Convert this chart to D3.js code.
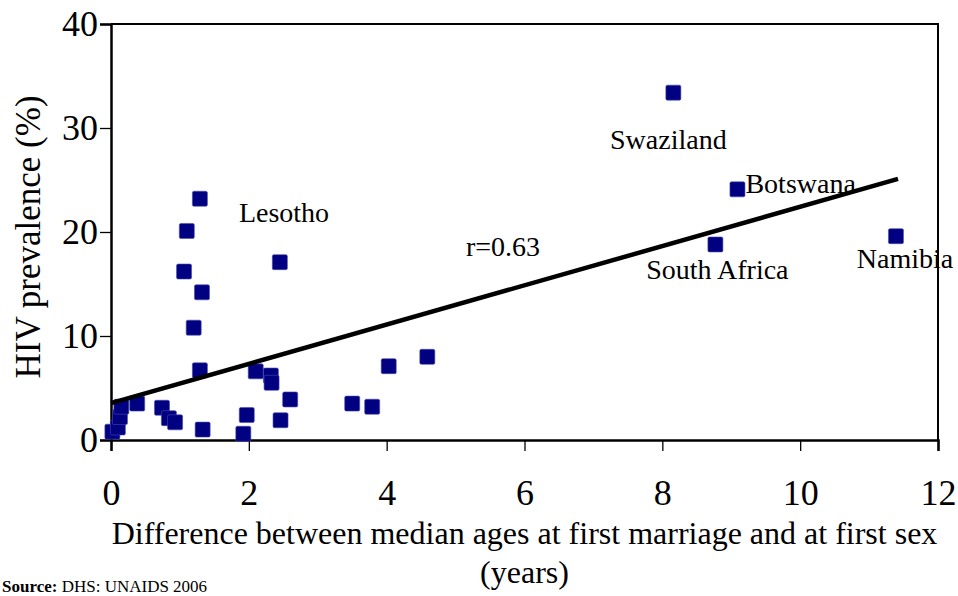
<!DOCTYPE html>
<html lang="en">
<head>
  <meta charset="UTF-8" />
  <title>HIV prevalence vs age gap</title>
  <script src="https://d3js.org/d3.v7.min.js"></script>
  <style>
    html, body { margin: 0; padding: 0; background: #fff; }
    svg { display: block; font-family: "Liberation Serif", "Times New Roman", serif; }
    .tick text { font-size: 36px; fill: #000; }
    .label { font-size: 28px; fill: #000; }
    .axis-title { font-size: 32px; fill: #000; }
  </style>
</head>
<body>
  <svg id="chart" width="958" height="596"></svg>

  <script>
    // difference between median ages at first marriage and first sex (years)
    const ageGap = [1.29, 1.10, 1.06, 1.32, 1.20, 1.29, 2.45, 8.16, 9.09, 8.77, 11.39,
                    4.59, 4.03, 3.50, 3.79, 2.60, 2.10, 2.32, 2.33, 1.97, 2.46, 1.92,
                    1.33, 0.38, 0.74, 0.84, 0.93, 0.02, 0.10, 0.13, 0.15];
    // HIV prevalence (%)
    const prevalence = [23.2, 20.1, 16.2, 14.2, 10.8, 6.7, 17.1, 33.4, 24.1, 18.8, 19.6,
                        8.0, 7.1, 3.5, 3.2, 3.9, 6.6, 6.2, 5.5, 2.4, 1.9, 0.6,
                        1.0, 3.5, 3.1, 2.1, 1.7, 0.8, 1.2, 2.2, 3.2];
    const countryNames = ['Lesotho', '', '', '', '', '', '', 'Swaziland', 'Botswana', 'South Africa', 'Namibia'];
    // label placement relative to its point: [dx, dy, anchor]
    const labelOffsets = {
      'Lesotho':      [39, 23, 'start'],
      'Swaziland':    [-5, 56, 'middle'],
      'Botswana':     [8, 4, 'start'],
      'South Africa': [2, 35, 'middle'],
      'Namibia':      [9, 32, 'middle']
    };
    const xTicks = [0, 2, 4, 6, 8, 10, 12];
    const yTicks = [0, 10, 20, 30, 40];
    const fitLine = [[0, 3.55], [11.42, 25.1]];   // trend line, r=0.63
    const rText = 'r=0.63', rPos = [5.15, 17.7];

    const svg = d3.select('#chart');
    const m = { left: 111, right: 938, top: 24, bottom: 440 };
    const x = d3.scaleLinear().domain([0, 12]).range([m.left, m.right]);
    const y = d3.scaleLinear().domain([0, 40]).range([m.bottom, m.top]);

    // frame (top + right)
    svg.append('path')
      .attr('d', `M${m.left},${m.top}H${m.right}V${m.bottom}`)
      .attr('fill', 'none').attr('stroke', '#000').attr('stroke-width', 2);

    const xAxis = svg.append('g').attr('transform', `translate(0,${m.bottom})`)
      .call(d3.axisBottom(x).tickValues(xTicks).tickSize(11).tickPadding(28).tickFormat(d3.format('d')));
    const yAxis = svg.append('g').attr('transform', `translate(${m.left},0)`)
      .call(d3.axisLeft(y).tickValues(yTicks).tickSize(11).tickPadding(2).tickFormat(d3.format('d')));
    [xAxis, yAxis].forEach(a => {
      a.attr('font-family', null).attr('font-size', null);
      a.select('.domain').attr('stroke', '#000').attr('stroke-width', 2.5);
      a.selectAll('.tick line').attr('stroke', '#000').attr('stroke-width', 1.3);
    });
    xAxis.selectAll('.tick text').attr('dy', '0.71em');

    const pts = ageGap.map((v, i) => ({ gx: v, hv: prevalence[i], name: countryNames[i] || '' }));

    const sq = 15;
    svg.append('g').selectAll('rect').data(pts).join('rect')
      .attr('x', d => x(d.gx) - sq / 2).attr('y', d => y(d.hv) - sq / 2)
      .attr('width', sq).attr('height', sq).attr('rx', 1.5)
      .attr('fill', '#000080').attr('stroke', '#4a4ab0').attr('stroke-width', 0.6);

    svg.append('path')
      .datum(fitLine)
      .attr('d', d3.line().x(d => x(d[0])).y(d => y(d[1])))
      .attr('stroke', '#000').attr('stroke-width', 4.5).attr('fill', 'none');

    svg.append('g').selectAll('text').data(pts.filter(d => d.name)).join('text')
      .attr('class', 'label')
      .attr('x', d => x(d.gx) + labelOffsets[d.name][0])
      .attr('y', d => y(d.hv) + labelOffsets[d.name][1])
      .attr('text-anchor', d => labelOffsets[d.name][2])
      .text(d => d.name);

    svg.append('text').attr('class', 'label')
      .attr('x', x(rPos[0])).attr('y', y(rPos[1]))
      .text(rText);

    // axis titles
    svg.append('text').attr('class', 'axis-title')
      .attr('x', (m.left + m.right) / 2).attr('y', 544).attr('text-anchor', 'middle')
      .text('Difference between median ages at first marriage and at first sex');
    svg.append('text').attr('class', 'axis-title')
      .attr('x', (m.left + m.right) / 2).attr('y', 583).attr('text-anchor', 'middle')
      .text('(years)');
    svg.append('text').attr('class', 'axis-title')
      .attr('transform', `translate(40,${(m.top + m.bottom) / 2 + 5}) rotate(-90)`)
      .attr('text-anchor', 'middle').style('font-size', '35px')
      .text('HIV prevalence (%)');

    // source note
    const src = svg.append('text').attr('x', 2).attr('y', 592).style('font-size', '17px');
    src.append('tspan').attr('font-weight', 'bold').text('Source:');
    src.append('tspan').text(' DHS: UNAIDS 2006');
  </script>
</body>
</html>
